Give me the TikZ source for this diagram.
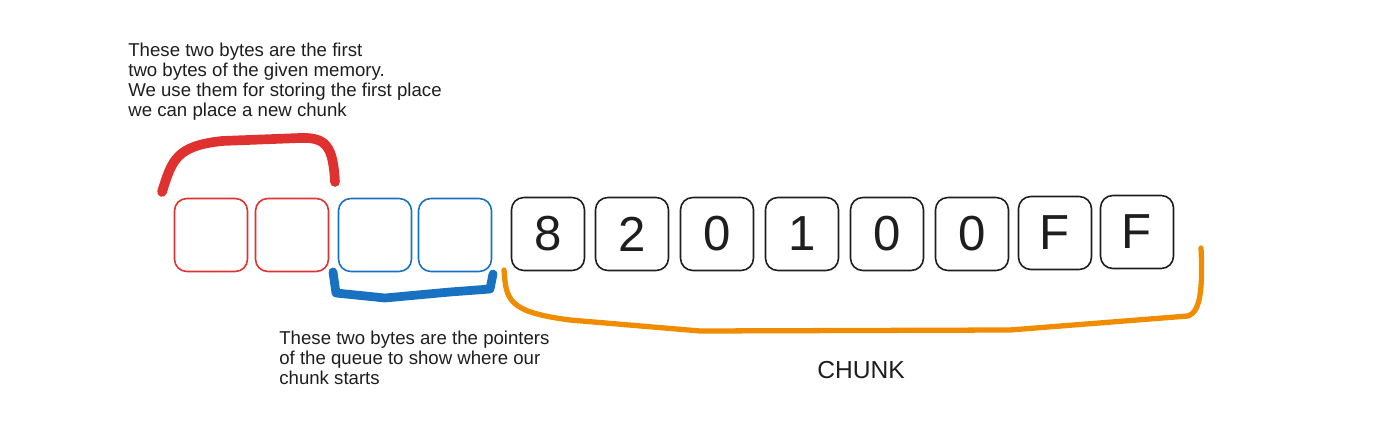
\documentclass[tikz,border=0pt]{standalone}
\usepackage{fontspec}
\setmainfont{Liberation Sans}
\definecolor{exred}{HTML}{E03131}
\definecolor{exblue}{HTML}{1971C2}
\definecolor{exorange}{HTML}{F08C00}
\definecolor{exink}{HTML}{1E1E1E}
\tikzset{
  cell/.style={draw, line width=0.9pt, rounded corners=7pt, minimum size=1.46cm, inner sep=0pt},
  brace/.style={line width=#1, line cap=round, line join=round},
  note/.style={anchor=north west, align=left, inner sep=0pt, font=\fontsize{10.6}{11.4}\selectfont, text=exink}
}
\begin{document}
\begin{tikzpicture}[x=0.02cm, y=-0.02cm]
\useasboundingbox (0,0) rectangle (1385,425);
% empty header bytes
\node[cell, draw=exred] (r1) at (211,235) {};
\node[cell, draw=exred] (r2) at (292,235) {};
\node[cell, draw=exblue] (q1) at (375,235) {};
\node[cell, draw=exblue] (q2) at (455,235) {};
% chunk bytes
\foreach \x/\y/\t [count=\i] in {548/234/8, 632/234/2, 717/234/0, 802/234/1, 887/234/0, 972/234/0, 1055/233/F, 1137/232/F}
    \node[cell, draw=exink, text=exink, font=\fontsize{28}{28}\selectfont] (c\i) at (\x,\y) {\t};
% brackets
\draw[exred, brace=5.5pt] (162,192) .. controls (172,160) and (176,146) .. (222,141)
    -- (300,138) .. controls (326,137) and (333,146) .. (335,182);
\draw[exblue, brace=5pt] (333,272) -- (336,293) -- (385,298) -- (450,292) -- (490,289) -- (493,274);
\draw[exorange, brace=3pt] (504,270) .. controls (506,300) and (508,312) .. (570,320)
    -- (700,331) -- (1010,330) -- (1188,316) .. controls (1200,312) and (1203,290) .. (1201,248);
% texts
\node[note] (top) at (128,43) {These two bytes are the first\\two bytes of the given memory.\\We use them for storing the first place\\we can place a new chunk};
\node[note] (bottom) at (279,331) {These two bytes are the pointers\\of the queue to show where our\\chunk starts};
\node[font=\fontsize{14}{14}\selectfont, text=exink] (chunk) at (861,370) {CHUNK};
\end{tikzpicture}
\end{document}
